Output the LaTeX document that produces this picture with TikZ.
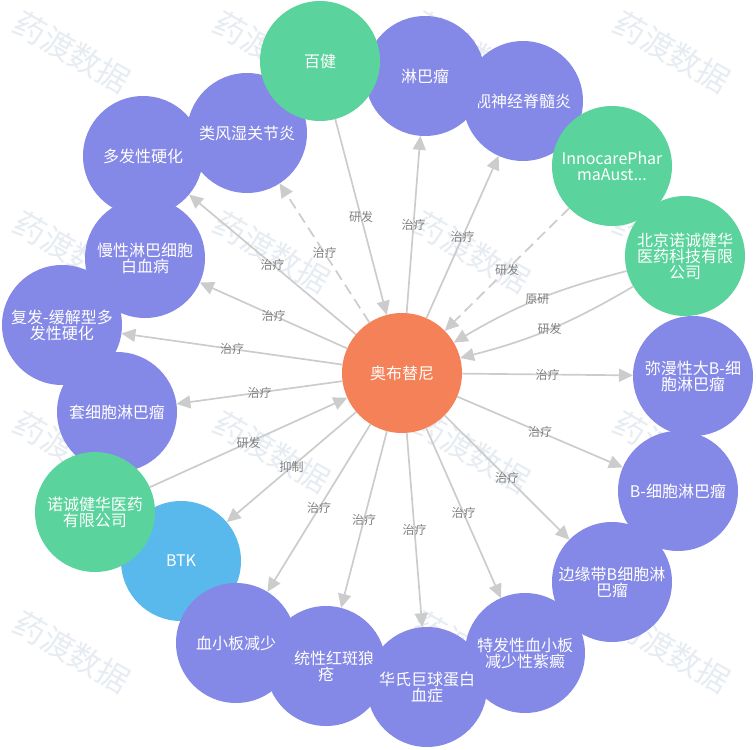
\documentclass[tikz,border=0pt]{standalone}
\usepackage{fontspec}
\setmainfont{Noto Sans CJK SC}
\usetikzlibrary{arrows.meta}
\definecolor{bubbleviolet}{HTML}{8488E6}
\definecolor{bubblegreen}{HTML}{5AD49C}
\definecolor{bubbleorange}{HTML}{F58158}
\definecolor{bubbleblue}{HTML}{5AB9EC}
\definecolor{edgegrey}{HTML}{CCCCCC}
\definecolor{labelgrey}{HTML}{7F7F7F}
\definecolor{markgrey}{HTML}{E6ECF1}
\tikzset{
  bubble/.style={circle,minimum size=120pt,inner sep=0pt,outer sep=0pt,text=white,align=center,font=\fontsize{16}{16}\selectfont},
  disease/.style={bubble,fill=bubbleviolet},
  company/.style={bubble,fill=bubblegreen},
  link/.style={draw=edgegrey,line width=1.7pt,-{Triangle[length=14pt,width=13pt]}},
  linklabel/.style={text=labelgrey,font=\fontsize{12}{12}\selectfont,inner sep=0pt},
  watermark/.style={text=markgrey,rotate=-30,font=\fontsize{32}{32}\selectfont,inner sep=0pt}
}
\begin{document}
\begin{tikzpicture}[x=1pt,y=-1pt]
  \useasboundingbox (0,0) rectangle (756,750);
  \node[watermark] (w1) at (72,52) {药渡数据};
  \node[watermark] (w2) at (272,52) {药渡数据};
  \node[watermark] (w3) at (472,52) {药渡数据};
  \node[watermark] (w4) at (672,52) {药渡数据};
  \node[watermark] (w5) at (72,252) {药渡数据};
  \node[watermark] (w6) at (272,252) {药渡数据};
  \node[watermark] (w7) at (472,252) {药渡数据};
  \node[watermark] (w8) at (672,252) {药渡数据};
  \node[watermark] (w9) at (72,452) {药渡数据};
  \node[watermark] (w10) at (272,452) {药渡数据};
  \node[watermark] (w11) at (472,452) {药渡数据};
  \node[watermark] (w12) at (672,452) {药渡数据};
  \node[watermark] (w13) at (72,652) {药渡数据};
  \node[watermark] (w14) at (272,652) {药渡数据};
  \node[watermark] (w15) at (472,652) {药渡数据};
  \node[watermark] (w16) at (672,652) {药渡数据};

  \node[disease] (1) at (143,156) {多发性硬化};
  \node[disease] (2) at (247,133) {类风湿关节炎};
  \node[disease] (3) at (523,101) {视神经脊髓炎};
  \node[disease] (4) at (425,76) {淋巴瘤};
  \node[company] (5) at (320,61) {百健};
  \node[company] (6) at (612,166) {InnocarePhar\\maAust...};
  \node[company] (7) at (685,256) {北京诺诚健华\\医药科技有限\\公司};
  \node[disease] (8) at (693,376) {弥漫性大B-细\\胞淋巴瘤};
  \node[disease] (9) at (678,491) {B-细胞淋巴瘤};
  \node[disease] (10) at (612,582) {边缘带B细胞淋\\巴瘤};
  \node[disease] (11) at (525,653) {特发性血小板\\减少性紫癜};
  \node[disease] (12) at (326,666) {系统性红斑狼\\疮};
  \node[disease] (13) at (427,687) {华氏巨球蛋白\\血症};
  \node[bubble,fill=bubbleblue] (14) at (181,561) {BTK};
  \node[disease] (15) at (236,643) {血小板减少};
  \node[disease] (16) at (117,412) {套细胞淋巴瘤};
  \node[disease] (17) at (62,325) {复发-缓解型多\\发性硬化};
  \node[disease] (18) at (145,258) {慢性淋巴细胞\\白血病};
  \node[company] (19) at (95,512) {诺诚健华医药\\有限公司};
  \node[bubble,fill=bubbleorange] (0) at (402,373) {奥布替尼};

  \draw[link] (0) -- node[linklabel] (a1) {治疗} (1);
  \draw[link,dash pattern=on 11pt off 6pt] (0) -- node[linklabel] (a2) {治疗} (2);
  \draw[link] (0) -- node[linklabel] (a3) {治疗} (3);
  \draw[link] (0) -- node[linklabel] (a4) {治疗} (4);
  \draw[link] (5) -- node[linklabel] (a5) {研发} (0);
  \draw[link,dash pattern=on 11pt off 6pt] (6) -- node[linklabel] (a6) {研发} (0);
  \draw[link] (7) to[bend right=8] node[linklabel] (a7) {原研} (0);
  \draw[link] (7) to[bend left=8] node[linklabel] (a8) {研发} (0);
  \draw[link] (0) -- node[linklabel] (a9) {治疗} (8);
  \draw[link] (0) -- node[linklabel] (a10) {治疗} (9);
  \draw[link] (0) -- node[linklabel] (a11) {治疗} (10);
  \draw[link] (0) -- node[linklabel] (a12) {治疗} (11);
  \draw[link] (0) -- node[linklabel] (a13) {治疗} (12);
  \draw[link] (0) -- node[linklabel] (a14) {治疗} (13);
  \draw[link] (0) -- node[linklabel] (a15) {抑制} (14);
  \draw[link] (0) -- node[linklabel] (a16) {治疗} (15);
  \draw[link] (0) -- node[linklabel] (a17) {治疗} (16);
  \draw[link] (0) -- node[linklabel] (a18) {治疗} (17);
  \draw[link] (0) -- node[linklabel] (a19) {治疗} (18);
  \draw[link] (19) -- node[linklabel] (a20) {研发} (0);
\end{tikzpicture}
\end{document}
